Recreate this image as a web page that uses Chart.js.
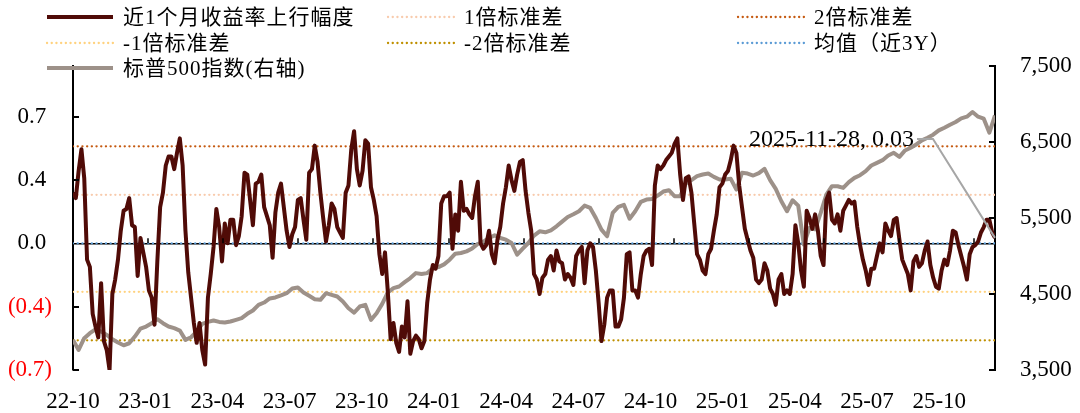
<!DOCTYPE html>
<html>
<head>
<meta charset="utf-8">
<script src="https://cdn.jsdelivr.net/npm/chart.js@4.4.1/dist/chart.umd.min.js"></script>
<style>
  html, body { margin: 0; padding: 0; background: #fff; }
  #wrap { width: 1080px; height: 413px; position: relative; }
</style>
</head>
<body>
<div id="wrap"><canvas id="spreadChart"></canvas></div>
<script>
// x runs in weeks from 2022-10-07 (0) to 2025-11-28 (164)
const lastWeek = 164;

// 近1个月收益率上行幅度, read every half week (left axis)
const upMove = [
  0.28, 0.25, 0.4, 0.52, 0.36, -0.09, -0.13, -0.39, -0.46, -0.52,
  -0.22, -0.54, -0.59, -0.7, -0.28, -0.2, -0.09, 0.07, 0.18, 0.19,
  0.25, 0.1, 0.09, -0.18, 0.03, -0.05, -0.13, -0.26, -0.3, -0.45,
  -0.1, 0.2, 0.28, 0.43, 0.48, 0.48, 0.41, 0.5, 0.58, 0.43,
  0.07, -0.16, -0.3, -0.44, -0.55, -0.44, -0.59, -0.67, -0.3, -0.17,
  -0.02, 0.19, 0.09, -0.1, 0.11, 0.0, 0.13, 0.13, -0.01, 0.04,
  0.15, 0.39, 0.38, 0.24, 0.1, 0.33, 0.34, 0.38, 0.2, 0.15,
  0.1, -0.08, 0.17, 0.28, 0.33, 0.2, 0.07, -0.02, 0.05, 0.09,
  0.24, 0.25, 0.13, 0.02, 0.39, 0.41, 0.54, 0.45, 0.28, 0.14,
  0.01, 0.1, 0.22, 0.19, 0.09, 0.06, 0.03, 0.28, 0.32, 0.52,
  0.62, 0.41, 0.32, 0.4, 0.57, 0.55, 0.31, 0.24, 0.15, -0.06,
  -0.17, -0.05, -0.27, -0.53, -0.44, -0.55, -0.6, -0.46, -0.52, -0.32,
  -0.61, -0.54, -0.51, -0.53, -0.58, -0.54, -0.33, -0.2, -0.12, -0.14,
  -0.07, 0.22, 0.26, 0.26, 0.28, -0.03, 0.16, 0.07, 0.34, 0.18,
  0.19, 0.16, 0.14, 0.26, 0.34, 0.0, -0.03, -0.01, 0.07, -0.06,
  -0.11, 0.02, 0.09, 0.22, 0.31, 0.43, 0.35, 0.29, 0.38, 0.45,
  0.46, 0.29, 0.17, 0.07, -0.17, -0.2, -0.28, -0.19, -0.17, -0.09,
  -0.07, -0.15, -0.04, -0.1, -0.11, -0.2, -0.17, -0.19, -0.23, -0.07,
  -0.04, -0.02, -0.22, -0.04, 0.0, -0.02, -0.15, -0.33, -0.54, -0.45,
  -0.3, -0.26, -0.26, -0.46, -0.46, -0.42, -0.3, -0.06, -0.05, -0.26,
  -0.26, -0.3, -0.17, -0.07, -0.04, -0.03, -0.12, 0.32, 0.43, 0.41,
  0.43, 0.46, 0.48, 0.5, 0.55, 0.58, 0.38, 0.24, 0.36, 0.37,
  0.28, 0.11, -0.06, -0.09, -0.15, -0.17, -0.06, -0.03, 0.07, 0.16,
  0.31, 0.33, 0.38, 0.4, 0.46, 0.54, 0.5, 0.32, 0.2, 0.08,
  0.02, -0.04, -0.08, -0.2, -0.22, -0.2, -0.11, -0.15, -0.25, -0.28,
  -0.34, -0.2, -0.17, -0.28, -0.26, -0.28, -0.17, 0.1, 0.0, -0.15,
  -0.24, 0.18, 0.14, 0.08, 0.16, 0.07, -0.07, -0.12, 0.24, 0.28,
  0.13, 0.11, 0.16, 0.07, 0.18, 0.21, 0.24, 0.22, 0.23, 0.09,
  -0.01, -0.09, -0.15, -0.23, -0.14, -0.14, -0.07, 0.0, -0.05, 0.11,
  0.07, 0.04, 0.13, 0.14, 0.02, -0.09, -0.13, -0.17, -0.26, -0.1,
  -0.07, -0.13, -0.11, -0.04, 0.01, -0.12, -0.19, -0.24, -0.25, -0.15,
  -0.09, -0.12, -0.04, 0.07, 0.06, -0.01, -0.07, -0.13, -0.2, -0.06,
  -0.02, -0.01, 0.01, 0.06, 0.09, 0.13, 0.13, 0.06, 0.03
];

// 标普500指数, weekly (right axis)
const spx = [
  3896, 3764, 3918, 3984, 4036, 4006, 3962, 3905, 3861, 3825,
  3852, 3940, 4045, 4072, 4116, 4168, 4116, 4072, 4050, 4019,
  3896, 3931, 4006, 4107, 4133, 4151, 4133, 4124, 4138, 4160,
  4182, 4239, 4283, 4357, 4388, 4441, 4454, 4481, 4511, 4573,
  4586, 4520, 4476, 4432, 4423, 4511, 4489, 4467, 4401, 4313,
  4256, 4335, 4357, 4160, 4247, 4370, 4520, 4577, 4599, 4656,
  4709, 4775, 4762, 4775, 4837, 4854, 4890, 4951, 5030, 5039,
  5061, 5100, 5158, 5188, 5237, 5272, 5237, 5215, 5171, 5017,
  5096, 5171, 5268, 5325, 5312, 5338, 5391, 5452, 5514, 5549,
  5589, 5663, 5632, 5500, 5347, 5259, 5567, 5646, 5672, 5490,
  5589, 5712, 5742, 5751, 5795, 5848, 5866, 5786, 5786, 5954,
  5998, 6050, 6072, 6085, 6041, 6006, 6006, 6015, 5874, 6094,
  6085, 6059, 6090, 6147, 5998, 5883, 5720, 5589, 5734, 5663,
  5150, 5369, 5350, 5567, 5808, 5918, 5918, 5896, 5971, 6028,
  6063, 6116, 6191, 6226, 6261, 6323, 6358, 6305, 6389, 6424,
  6468, 6521, 6556, 6596, 6653, 6688, 6727, 6763, 6811, 6833,
  6894, 6833, 6807, 6622, 6850
];

// 均值与标准差水平 (近3Y)
const meanLevel = 0.0;
const sd1Up = 0.268;
const sd2Up = 0.536;
const sd1Down = -0.268;
const sd2Down = -0.536;

const xTickLabels = ['22-10', '23-01', '23-04', '23-07', '23-10', '24-01', '24-04',
                     '24-07', '24-10', '25-01', '25-04', '25-07', '25-10'];
const labelStepWeeks = 12.84;   // spacing of the date labels
const axisMarkStepWeeks = 13.36; // spacing of the small marks on the zero line
const leftTicks = [-0.7, -0.35, 0, 0.35, 0.7];
const leftTickLabels = ['(0.7)', '(0.4)', '0.0 ', '0.4 ', '0.7 '];
const rightTicks = [3500, 4500, 5500, 6500, 7500];
const rightTickLabels = ['3,500', '4,500', '5,500', '6,500', '7,500'];
const lastPointLabel = '2025-11-28, 0.03';

const SERIF = "'Liberation Serif', 'Times New Roman', 'Noto Sans CJK SC', serif";

const flatLine = v => [{ x: 0, y: v }, { x: lastWeek, y: v }];

const dotted = (label, color, level) => ({
    label: label,
    data: flatLine(level),
    yAxisID: 'y',
    borderColor: color,
    borderWidth: 2.3,
    borderDash: [0.1, 4.6],
    borderCapStyle: 'round',
    pointRadius: 0,
    order: 3,
    dotted: true
});

// custom legend: 3 columns grid, drawn on canvas
const gridLegend = {
    id: 'gridLegend',
    afterDraw(chart) {
        const ctx = chart.ctx;
        const colX = [47, 388, 738];
        const rowY = [17, 43, 68];
        const sampleLen = 66;
        ctx.save();
        ctx.font = "21px " + SERIF;
        ctx.letterSpacing = '1px';
        ctx.textBaseline = 'middle';
        ctx.fillStyle = '#000';
        chart.data.datasets.forEach((ds, i) => {
            const x = colX[i % 3];
            const y = rowY[Math.floor(i / 3)];
            ctx.beginPath();
            ctx.strokeStyle = ds.borderColor;
            ctx.lineWidth = ds.dotted ? 2.3 : 4;
            ctx.lineCap = ds.dotted ? 'round' : 'butt';
            ctx.setLineDash(ds.dotted ? [0.1, 4.6] : []);
            ctx.moveTo(x, y);
            ctx.lineTo(x + sampleLen, y);
            ctx.stroke();
            ctx.setLineDash([]);
            ctx.fillText(ds.label, x + sampleLen + 10, y + 1);
        });
        ctx.restore();
    }
};

// inward tick marks on both value axes + small marks on the zero line
const innerTicks = {
    id: 'innerTicks',
    afterDraw(chart) {
        const ctx = chart.ctx;
        const yl = chart.scales.y;
        const yr = chart.scales.y1;
        const xs = chart.scales.x;
        ctx.save();
        ctx.strokeStyle = '#000';
        ctx.lineWidth = 2;
        yl.ticks.forEach(t => {
            if (t.value === 0) return;
            const py = Math.round(yl.getPixelForValue(t.value));
            ctx.beginPath();
            ctx.moveTo(yl.right, py);
            ctx.lineTo(yl.right + 6, py);
            ctx.stroke();
        });
        yr.ticks.forEach(t => {
            const py = Math.round(yr.getPixelForValue(t.value));
            ctx.beginPath();
            ctx.moveTo(yr.left, py);
            ctx.lineTo(yr.left - 6, py);
            ctx.stroke();
        });
        const y0 = yl.getPixelForValue(0);
        ctx.lineWidth = 1.5;
        for (let w = axisMarkStepWeeks; w < lastWeek; w += axisMarkStepWeeks) {
            const px = Math.round(xs.getPixelForValue(w));
            ctx.beginPath();
            ctx.moveTo(px, y0);
            ctx.lineTo(px, y0 - 5);
            ctx.stroke();
        }
        ctx.restore();
    }
};

// data label on the last point with a leader line
const lastLabel = {
    id: 'lastLabel',
    afterDatasetsDraw(chart) {
        const meta = chart.getDatasetMeta(0);
        const pt = meta.data[meta.data.length - 1];
        if (!pt) return;
        const ctx = chart.ctx;
        const cx = pt.x - 62, cy = pt.y - 99;
        ctx.save();
        ctx.strokeStyle = '#a6a6a6';
        ctx.lineWidth = 2;
        ctx.beginPath();
        ctx.moveTo(pt.x, pt.y);
        ctx.lineTo(cx, cy);
        ctx.lineTo(cx - 16, cy);
        ctx.stroke();
        ctx.font = "24px " + SERIF;
        ctx.fillStyle = '#000';
        ctx.textAlign = 'right';
        ctx.textBaseline = 'middle';
        ctx.fillText(lastPointLabel, cx - 19, cy + 1);
        ctx.restore();
    }
};

const ctxEl = document.getElementById('spreadChart');
new Chart(ctxEl, {
    type: 'line',
    data: {
        datasets: [
            {
                label: '近1个月收益率上行幅度',
                data: upMove.map((v, h) => ({ x: h / 2, y: v })),
                yAxisID: 'y',
                borderColor: '#500b07',
                borderWidth: 4,
                borderJoinStyle: 'round',
                pointRadius: 0,
                tension: 0,
                order: 1
            },
            dotted('1倍标准差', '#f8cbad', sd1Up),
            dotted('2倍标准差', '#c55a11', sd2Up),
            dotted('-1倍标准差', '#ffd27f', sd1Down),
            dotted('-2倍标准差', '#bf9000', sd2Down),
            dotted('均值（近3Y）', '#5b9bd5', meanLevel),
            {
                label: '标普500指数(右轴)',
                data: spx.map((v, i) => ({ x: i, y: v })),
                yAxisID: 'y1',
                borderColor: '#9d9189',
                borderWidth: 4,
                borderJoinStyle: 'round',
                pointRadius: 0,
                tension: 0,
                order: 2
            }
        ]
    },
    options: {
        responsive: true,
        maintainAspectRatio: false,
        animation: false,
        parsing: true,
        layout: { padding: { top: 66, left: 0, right: 0, bottom: 0 } },
        plugins: {
            legend: { display: false },
            tooltip: { enabled: false }
        },
        scales: {
            x: {
                type: 'linear',
                min: 0,
                max: lastWeek,
                afterBuildTicks: s => {
                    s.ticks = xTickLabels.map((_, k) => ({ value: k * labelStepWeeks }));
                },
                grid: { display: false, drawTicks: false },
                border: { display: false },
                ticks: {
                    autoSkip: false,
                    maxRotation: 0,
                    padding: 18,
                    color: '#000',
                    font: { family: SERIF, size: 23 },
                    callback: (v, idx) => xTickLabels[idx]
                },
                afterFit: s => { s.height = 43; }
            },
            y: {
                position: 'left',
                min: -0.7,
                max: 0.98,
                afterBuildTicks: s => { s.ticks = leftTicks.map(v => ({ value: v })); },
                grid: {
                    drawTicks: false,
                    color: c => (c.tick && c.tick.value === 0) ? '#000' : 'rgba(0,0,0,0)',
                    lineWidth: 1.6
                },
                border: { display: true, color: '#000', width: 2 },
                ticks: {
                    padding: 21,
                    font: { family: SERIF, size: 23 },
                    color: c => c.tick.value < 0 ? '#ff0000' : '#000',
                    callback: (v, i) => leftTickLabels[leftTicks.indexOf(v)]
                },
                afterFit: s => { s.width = 73; }
            },
            y1: {
                position: 'right',
                min: 3500,
                max: 7500,
                afterBuildTicks: s => { s.ticks = rightTicks.map(v => ({ value: v })); },
                grid: { display: false, drawTicks: false },
                border: { display: true, color: '#000', width: 2 },
                ticks: {
                    padding: 25,
                    font: { family: SERIF, size: 23 },
                    color: '#000',
                    callback: v => rightTickLabels[rightTicks.indexOf(v)]
                },
                afterFit: s => { s.width = 85; }
            }
        }
    },
    plugins: [gridLegend, innerTicks, lastLabel]
});
</script>
</body>
</html>
